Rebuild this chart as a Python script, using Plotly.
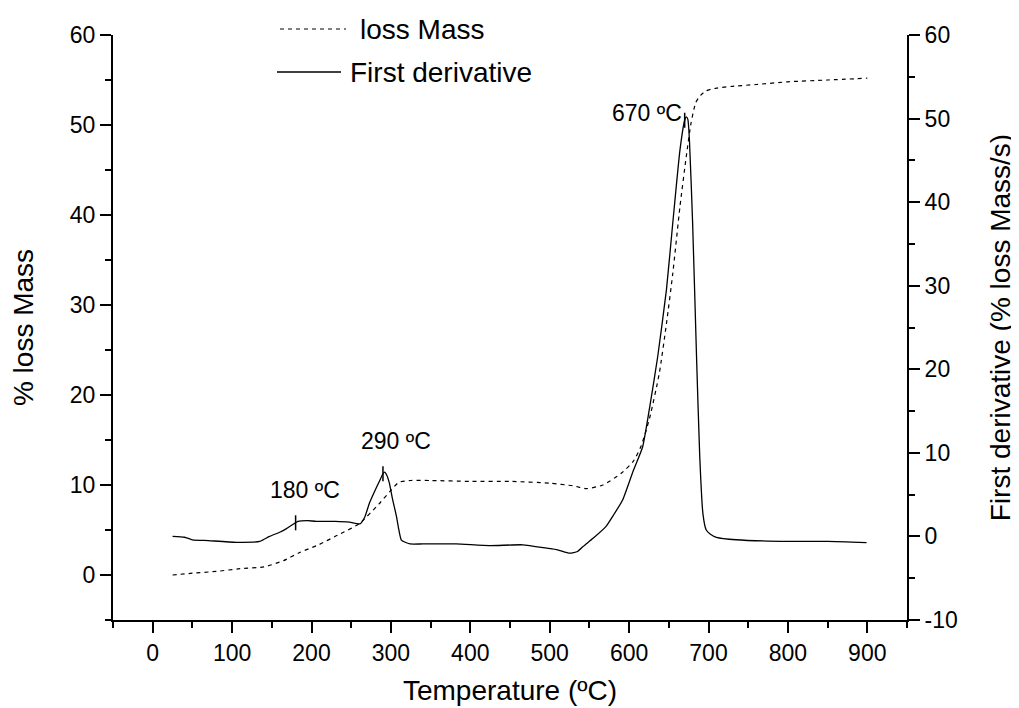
import numpy as np
import plotly.graph_objects as go

# ---------------- data ----------------
temp_mass = [25, 50, 80, 110, 140, 165, 185, 210, 230, 260, 285, 300, 310, 325, 350,
             400, 450, 500, 530, 546, 567, 590, 605, 615, 626, 638, 647, 655, 664,
             672, 678, 684, 690, 697, 710, 730, 760, 800, 850, 900]
loss_mass = [0.0, 0.2, 0.4, 0.7, 0.9, 1.6, 2.5, 3.4, 4.3, 5.7, 7.9, 9.4, 10.3, 10.5, 10.5,
             10.4, 10.4, 10.2, 9.9, 9.6, 10.0, 11.3, 12.6, 14.3, 17.5, 22.4, 27.9, 33.5, 40.9,
             46.5, 50.2, 52.5, 53.3, 53.8, 54.1, 54.3, 54.5, 54.8, 55.0, 55.2]

temp_deriv = [25, 40, 50, 70, 105, 135, 147, 160, 168, 176, 183, 195, 206, 230, 248,
              261, 267, 273, 280, 286, 290, 292, 295, 298, 302, 307, 310, 313, 318, 324,
              340, 382, 424, 466, 496, 510, 525, 535, 542, 555, 571, 580, 592, 605, 617,
              626, 636, 647, 655, 664, 670, 672, 674, 676, 680, 685, 689, 693, 697, 702,
              710, 735, 800, 850, 899]
first_deriv = [0.0, -0.1, -0.4, -0.5, -0.7, -0.6, 0.0, 0.5, 0.9, 1.4, 1.8, 1.9, 1.8, 1.8, 1.7,
               1.5, 2.3, 4.0, 5.5, 6.7, 7.5, 7.7, 7.3, 6.4, 4.5, 2.4, 0.8, -0.4, -0.7, -0.9,
               -0.9, -0.9, -1.1, -1.0, -1.4, -1.6, -2.0, -1.8, -1.2, -0.2, 1.2, 2.5, 4.4, 7.8, 10.7,
               15.5, 21.5, 29.5, 37.5, 46.2, 49.8, 50.2, 49.9, 47.4, 37.5, 21.3, 9.5, 2.7, 0.8, 0.3,
               -0.1, -0.4, -0.6, -0.6, -0.75]

peak_temps = [180, 290, 670]
peak_labels = ["180 ºC", "290 ºC", "670 ºC"]

x_ticks = [0, 100, 200, 300, 400, 500, 600, 700, 800, 900]
y_left_ticks = [0, 10, 20, 30, 40, 50, 60]
y_right_ticks = [-10, 0, 10, 20, 30, 40, 50, 60]
y_right_labels = ["-10", "0", "10", "20", "30", "40", "50", "60"]
series_names = ["loss Mass", "First derivative"]

FONT = "Arial, Liberation Sans, sans-serif"

# page has an 8px body margin: figure is sized/positioned to compensate
OFF = 8
W, H = 1019 - OFF, 708 - OFF
L, R, T, B = 113 - OFF, 907 - OFF, 35 - OFF, 620 - OFF

fig = go.Figure()

fig.add_trace(go.Scatter(
    x=temp_mass, y=loss_mass, mode="lines", name=series_names[0],
    line=dict(color="black", width=1.2, dash="4px,4px", shape="spline", smoothing=0.6),
    yaxis="y", showlegend=False))

fig.add_trace(go.Scatter(
    x=temp_deriv, y=first_deriv, mode="lines", name=series_names[1],
    line=dict(color="black", width=1.3, shape="spline", smoothing=0.5),
    yaxis="y2", showlegend=False))

# peak markers and labels
shapes = []
annotations = []
for t, lab in zip(peak_temps, peak_labels):
    v = float(np.interp(t, temp_deriv, first_deriv))
    shapes.append(dict(type="line", xref="x", yref="y2", x0=t, x1=t,
                       y0=v - 0.9, y1=v + 0.9, line=dict(color="black", width=1.5)))
    if t == 670:
        annotations.append(dict(x=t, y=v + 0.9, xref="x", yref="y2", text=lab,
                                showarrow=False, xanchor="right", yanchor="middle",
                                xshift=-1, yshift=0, font=dict(size=23, color="black", family=FONT)))
    else:
        annotations.append(dict(x=t, y=v + 0.9, xref="x", yref="y2", text=lab,
                                showarrow=False, xanchor="center", yanchor="bottom",
                                xshift=9 if t == 180 else 13, yshift=10,
                                font=dict(size=23, color="black", family=FONT)))

# manual legend (window pixel positions converted to paper coordinates)
def px(xp):
    return (xp - OFF - L) / (R - L)
def py(yp):
    return (B - (yp - OFF)) / (B - T)

shapes.append(dict(type="line", xref="paper", yref="paper", x0=px(280), x1=px(346),
                   y0=py(29), y1=py(29), line=dict(color="black", width=1.2, dash="4px,4px")))
shapes.append(dict(type="line", xref="paper", yref="paper", x0=px(277), x1=px(341),
                   y0=py(72), y1=py(72), line=dict(color="black", width=1.5)))
annotations.append(dict(x=px(358), y=py(29), xref="paper", yref="paper", text=series_names[0],
                        showarrow=False, xanchor="left", yanchor="middle",
                        font=dict(size=28, color="black", family=FONT)))
annotations.append(dict(x=px(348), y=py(72), xref="paper", yref="paper", text=series_names[1],
                        showarrow=False, xanchor="left", yanchor="middle",
                        font=dict(size=28, color="black", family=FONT)))

axis_common = dict(showgrid=False, zeroline=False, showline=True, linecolor="black",
                   linewidth=2, ticks="outside", ticklen=11, tickwidth=2, tickcolor="black",
                   tickfont=dict(size=23, color="black", family=FONT))

fig.update_layout(
    width=W, height=H,
    margin=dict(l=L, r=W - R, t=T, b=H - B, autoexpand=False),
    paper_bgcolor="white", plot_bgcolor="white",
    font=dict(family=FONT, color="black"),
    xaxis=dict(range=[-50, 950], tickvals=x_ticks,
               minor=dict(dtick=50, tick0=0, ticks="outside", ticklen=6, tickwidth=2,
                          tickcolor="black", showgrid=False),
               title=dict(text="Temperature (ºC)", font=dict(size=28, color="black", family=FONT),
                          standoff=16),
               **axis_common),
    yaxis=dict(range=[-5, 60], tickvals=y_left_ticks,
               minor=dict(dtick=5, tick0=0, ticks="outside", ticklen=6, tickwidth=2,
                          tickcolor="black", showgrid=False),
               title=dict(text="% loss Mass", font=dict(size=28, color="black", family=FONT),
                          standoff=30),
               **axis_common),
    yaxis2=dict(range=[-10, 60], tickvals=y_right_ticks, ticktext=y_right_labels,
                overlaying="y", side="right",
                minor=dict(dtick=5, tick0=0, ticks="outside", ticklen=6, tickwidth=2,
                           tickcolor="black", showgrid=False),
                title=dict(text="First derivative (% loss Mass/s)",
                           font=dict(size=28, color="black", family=FONT), standoff=34),
                **axis_common),
    shapes=shapes,
    annotations=annotations,
    showlegend=False,
)

fig.write_html("out.html")
